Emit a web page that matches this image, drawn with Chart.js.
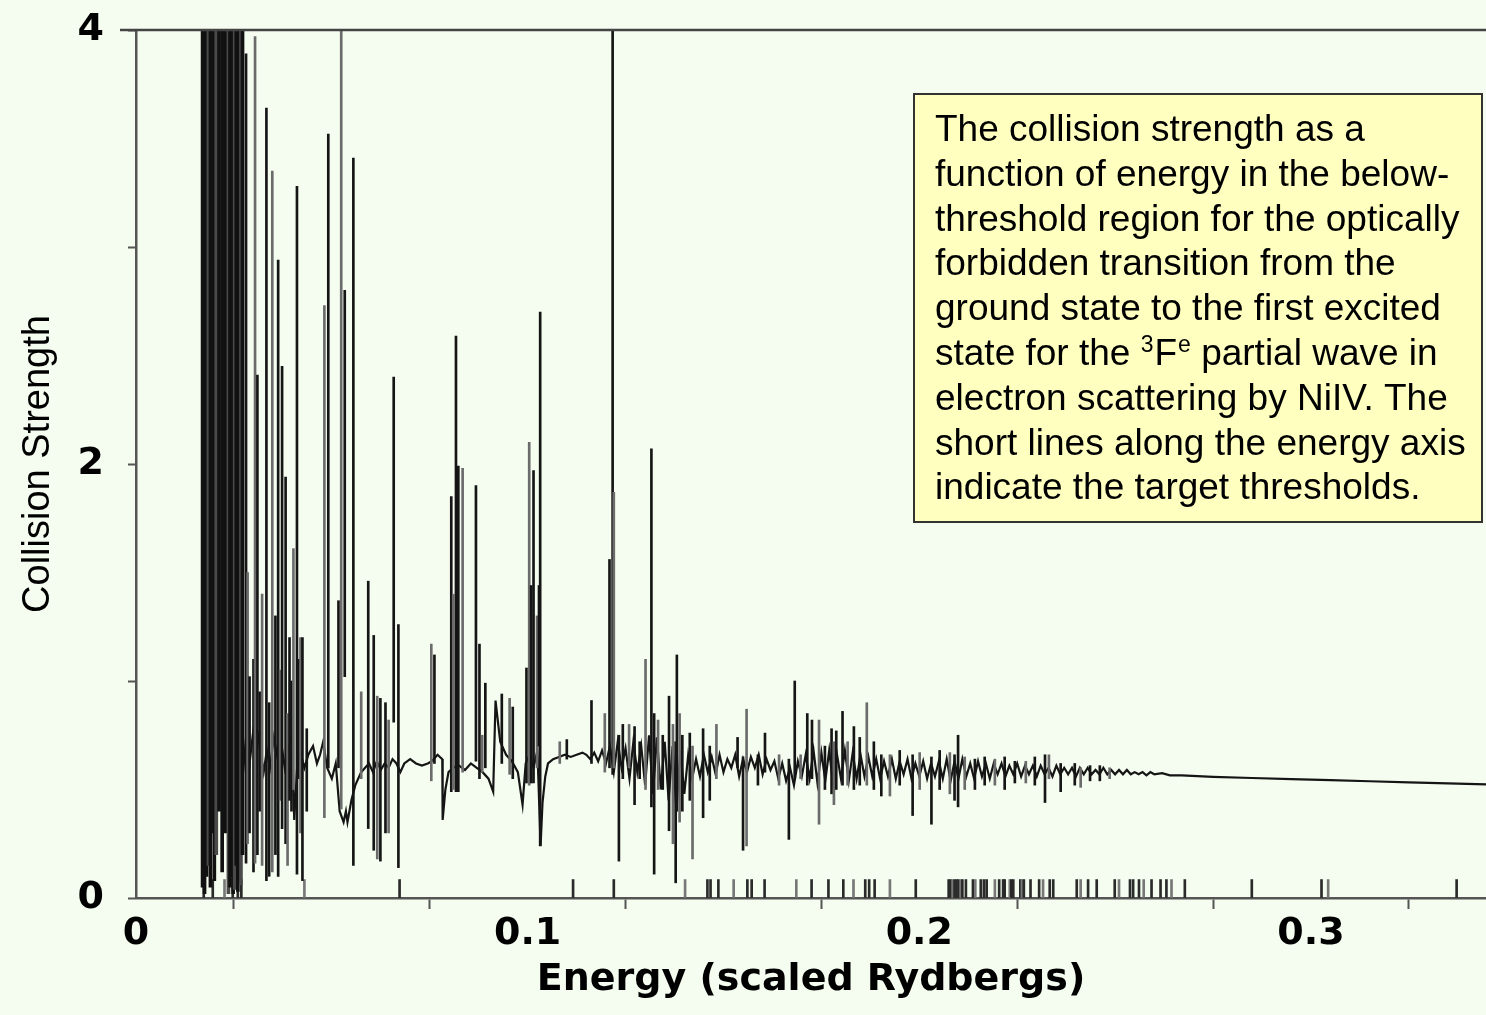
<!DOCTYPE html>
<html>
<head>
<meta charset="utf-8">
<title>Collision strength NiIV</title>
<script src="https://cdn.jsdelivr.net/npm/chart.js@4.4.1/dist/chart.umd.min.js"></script>
<style>
  body { margin: 0; background: #f4fdef; }
  #wrap { width: 1486px; height: 1015px; }
</style>
</head>
<body>
<div id="wrap"><canvas id="collisionChart" width="1486" height="1015"></canvas></div>
<script>
// background continuum of the collision strength (scaled Rydbergs, strength)
const traceEnergy = [
  0.0272, 0.0280, 0.0290, 0.0300, 0.0310, 0.0318, 0.0326, 0.0334, 0.0342, 0.0352,
  0.0362, 0.0372, 0.0380, 0.0390, 0.0398, 0.0404, 0.0412, 0.0420, 0.0430, 0.0440,
  0.0452, 0.0462, 0.0470, 0.0478, 0.0488, 0.0500, 0.0510, 0.0520, 0.0530, 0.0536,
  0.0540, 0.0550, 0.0560, 0.0575, 0.0585, 0.0595, 0.0605, 0.0615, 0.0625, 0.0635,
  0.0645, 0.0655, 0.0665, 0.0675, 0.0685, 0.0700, 0.0715, 0.0730, 0.0745, 0.0755,
  0.0770, 0.0782, 0.0783, 0.0790, 0.0798, 0.0810, 0.0825, 0.0840, 0.0855, 0.0870,
  0.0885, 0.0900, 0.0912, 0.0918, 0.0930, 0.0945, 0.0960, 0.0975, 0.0987, 0.0995,
  0.1005, 0.1015, 0.1025, 0.1033, 0.1038, 0.1045, 0.1052, 0.1065, 0.1080, 0.1095,
  0.1110, 0.1125, 0.1140, 0.1150,
  0.1160, 0.1170, 0.1180, 0.1190, 0.1200, 0.1210, 0.1220, 0.1230, 0.1240, 0.1250,
  0.1260, 0.1270, 0.1280, 0.1290, 0.1300, 0.1310, 0.1320, 0.1330, 0.1340, 0.1350,
  0.1360, 0.1370, 0.1380, 0.1390, 0.1400, 0.1410, 0.1420, 0.1430, 0.1440, 0.1450,
  0.1460, 0.1470, 0.1480, 0.1490, 0.1500, 0.1510, 0.1520, 0.1530, 0.1540, 0.1550,
  0.1560, 0.1570, 0.1580, 0.1590, 0.1600, 0.1610, 0.1620, 0.1630, 0.1640, 0.1650,
  0.1660, 0.1670, 0.1680, 0.1690, 0.1700, 0.1710, 0.1720, 0.1730, 0.1740, 0.1750,
  0.1760, 0.1770, 0.1780, 0.1790, 0.1800, 0.1810, 0.1820, 0.1830, 0.1840, 0.1850,
  0.1860, 0.1870, 0.1880, 0.1890, 0.1900, 0.1910, 0.1920, 0.1930, 0.1940, 0.1950,
  0.1960, 0.1970, 0.1980, 0.1990, 0.2000, 0.2010, 0.2020, 0.2030, 0.2040, 0.2050,
  0.2060, 0.2070, 0.2080, 0.2090, 0.2100, 0.2110, 0.2120, 0.2130, 0.2140, 0.2150,
  0.2160, 0.2170, 0.2180, 0.2190, 0.2200, 0.2210, 0.2220, 0.2230, 0.2240, 0.2250,
  0.2260, 0.2270, 0.2280, 0.2290, 0.2300, 0.2310, 0.2320, 0.2330, 0.2340, 0.2350,
  0.2360, 0.2370, 0.2380, 0.2390, 0.2400, 0.2410, 0.2420, 0.2430, 0.2440, 0.2450,
  0.2460, 0.2470, 0.2480, 0.2490, 0.2500, 0.2510, 0.2520, 0.2530, 0.2540, 0.2550,
  0.2560, 0.2570, 0.2580, 0.2590, 0.2600, 0.2620, 0.2640, 0.2670,
  0.2750, 0.2850, 0.2950, 0.3050, 0.3150, 0.3250, 0.3350, 0.3447
]
const traceStrength = [
  0.55, 0.72, 0.62, 0.78, 0.77, 0.67, 0.58, 0.68, 0.60, 0.74,
  0.64, 0.70, 0.60, 0.70, 0.75, 0.36, 0.62, 0.67, 0.60, 0.66,
  0.70, 0.62, 0.66, 0.72, 0.60, 0.55, 0.62, 0.40, 0.35, 0.40,
  0.35, 0.45, 0.52, 0.58, 0.60, 0.62, 0.58, 0.63, 0.59, 0.62,
  0.60, 0.64, 0.62, 0.58, 0.62, 0.64, 0.62, 0.61, 0.62, 0.63,
  0.66, 0.64, 0.36, 0.50, 0.58, 0.60, 0.61, 0.59, 0.62, 0.60,
  0.58, 0.55, 0.49, 0.91, 0.72, 0.66, 0.63, 0.58, 0.43, 0.62,
  0.66, 0.60, 0.68, 0.24, 0.44, 0.56, 0.62, 0.64, 0.65, 0.66,
  0.65, 0.66, 0.67, 0.66,
  0.64, 0.67, 0.63, 0.68, 0.62, 0.70, 0.58, 0.72, 0.60, 0.69,
  0.55, 0.72, 0.58, 0.70, 0.52, 0.75, 0.48, 0.74, 0.50, 0.72,
  0.45, 0.70, 0.40, 0.68, 0.48, 0.66, 0.55, 0.64, 0.56, 0.66,
  0.58, 0.65, 0.57, 0.66, 0.58, 0.64, 0.60, 0.66, 0.56, 0.64,
  0.58, 0.65, 0.60, 0.66, 0.57, 0.64, 0.59, 0.63, 0.55, 0.62,
  0.54, 0.60, 0.52, 0.63, 0.56, 0.66, 0.55, 0.68, 0.53, 0.67,
  0.54, 0.68, 0.52, 0.66, 0.55, 0.68, 0.54, 0.67, 0.55, 0.66,
  0.56, 0.65, 0.56, 0.64, 0.55, 0.63, 0.56, 0.64, 0.55, 0.63,
  0.57, 0.64, 0.55, 0.62, 0.56, 0.63, 0.55, 0.62, 0.56, 0.63,
  0.55, 0.64, 0.54, 0.63, 0.55, 0.64, 0.56, 0.62, 0.55, 0.63,
  0.56, 0.62, 0.55, 0.62, 0.57, 0.62, 0.56, 0.61, 0.57, 0.62,
  0.56, 0.61, 0.57, 0.61, 0.56, 0.61, 0.57, 0.60, 0.56, 0.61,
  0.57, 0.60, 0.57, 0.60, 0.56, 0.60, 0.57, 0.60, 0.57, 0.59,
  0.57, 0.60, 0.57, 0.59, 0.57, 0.59, 0.57, 0.59, 0.57, 0.58,
  0.57, 0.58, 0.565, 0.58, 0.57, 0.575, 0.565, 0.565,
  0.558, 0.553, 0.548, 0.543, 0.538, 0.533, 0.528, 0.524
]

// the crowded group of resonances near threshold, running off the top of the plot
const blockEnergy = [
  0.0170, 0.0175, 0.0180, 0.0185, 0.0190, 0.0195, 0.0200, 0.0205, 0.0212, 0.0220,
  0.0228, 0.0236, 0.0240, 0.0244, 0.0248, 0.0252, 0.0256, 0.0260, 0.0264, 0.0268, 0.0272
]
const blockLow = [
  0.05, 0.02, 0.10, 0.15, 0.05, 0.30, 0.08, 0.20, 0.40, 0.12,
  0.30, 0.02, 0.05, 0.10, 0.02, 0.04, 0.15, 0.03, 0.08, 0.06, 0.20
]
const blockTop = 4.2

// resonances: energy, lowest and highest value of each narrow peak
const peakEnergy = [
  0.0281, 0.0285, 0.0290, 0.0300, 0.0304, 0.0310, 0.0316, 0.0322, 0.0333, 0.0340,
  0.0348, 0.0356, 0.0363, 0.0368, 0.0373, 0.0382, 0.0387, 0.0392, 0.0397, 0.0402,
  0.0411, 0.0415, 0.0420, 0.0425, 0.0436, 0.0481, 0.0491, 0.0517, 0.0524, 0.0533,
  0.0555, 0.0575, 0.0593, 0.0607, 0.0616, 0.0624, 0.0637, 0.0645, 0.0658, 0.0670,
  0.0754, 0.0762, 0.0805, 0.0810, 0.0817, 0.0823, 0.0834, 0.0868, 0.0877, 0.0884,
  0.0892, 0.0934, 0.0954, 0.0962, 0.0997, 0.1004, 0.1009, 0.1015, 0.1024, 0.1029,
  0.1032, 0.1082, 0.1100,
  0.1163, 0.1197, 0.1209, 0.1217, 0.1220, 0.1233, 0.1243, 0.1259, 0.1273, 0.1286,
  0.1301, 0.1316, 0.1323, 0.1333, 0.1345, 0.1361, 0.1371, 0.1378, 0.1381, 0.1388,
  0.1395, 0.1414, 0.1421, 0.1448, 0.1465, 0.1482, 0.1536, 0.1550, 0.1559, 0.1588,
  0.1606, 0.1642, 0.1667, 0.1682, 0.1697, 0.1714, 0.1726, 0.1744, 0.1759, 0.1776,
  0.1782, 0.1788, 0.1804, 0.1817, 0.1833, 0.1848, 0.1866, 0.1884, 0.1903, 0.1925,
  0.1950, 0.1983, 0.2001, 0.2031, 0.2052, 0.2078, 0.2090, 0.2099, 0.2116, 0.2142,
  0.2167, 0.2193, 0.2218, 0.2244, 0.2272, 0.2295, 0.2321, 0.2331, 0.2361, 0.2397,
  0.2412, 0.2436, 0.2461, 0.2486
]
const peakLow = [
  0.16, 0.25, 0.30, 0.12, 0.16, 0.20, 0.40, 0.15, 0.08, 0.10,
  0.12, 0.20, 0.10, 0.45, 0.32, 0.25, 0.15, 0.45, 0.40, 0.50,
  0.11, 0.55, 0.30, 0.08, 0.40, 0.37, 0.60, 0.60, 0.41, 1.02,
  0.15, 0.55, 0.32, 0.22, 0.18, 0.17, 0.30, 0.30, 0.81, 0.14,
  0.54, 0.62, 0.49, 0.50, 0.49, 0.49, 0.58, 0.63, 0.55, 0.58,
  0.60, 0.62, 0.57, 0.55, 0.53, 0.52, 0.53, 0.53, 0.60, 0.70,
  0.24, 0.62, 0.64,
  0.62, 0.58, 0.60, 0.57, 0.60, 0.17, 0.55, 0.60, 0.43, 0.55,
  0.50, 0.42, 0.11, 0.50, 0.50, 0.31, 0.25, 0.07, 0.40, 0.35,
  0.40, 0.45, 0.18, 0.37, 0.45, 0.55, 0.60, 0.22, 0.24, 0.52,
  0.58, 0.52, 0.27, 0.55, 0.55, 0.52, 0.55, 0.34, 0.50, 0.48,
  0.43, 0.50, 0.52, 0.52, 0.50, 0.52, 0.52, 0.50, 0.47, 0.47,
  0.52, 0.38, 0.50, 0.34, 0.50, 0.48, 0.45, 0.42, 0.50, 0.50,
  0.52, 0.52, 0.50, 0.53, 0.53, 0.52, 0.44, 0.55, 0.49, 0.52,
  0.51, 0.54, 0.54, 0.55
]
const peakHigh = [
  3.89, 1.50, 1.02, 1.10, 3.97, 2.41, 0.95, 1.40, 3.64, 0.90,
  3.35, 1.30, 2.94, 1.05, 2.45, 1.94, 0.85, 1.20, 1.00, 1.61,
  3.28, 1.10, 1.20, 1.20, 0.78, 2.73, 3.52, 1.37, 4.2, 2.80,
  3.41, 0.95, 1.46, 1.21, 0.93, 0.92, 0.90, 0.82, 2.40, 1.26,
  1.17, 1.12, 1.85, 1.40, 2.59, 1.99, 1.98, 1.90, 1.17, 0.75,
  0.99, 0.94, 0.92, 0.88, 1.06, 2.10, 1.44, 1.97, 1.30, 1.44,
  2.70, 0.72, 0.73,
  0.91, 0.85, 1.56, 4.2, 1.87, 0.75, 0.80, 0.80, 0.79, 0.72,
  1.10, 2.07, 0.85, 0.82, 0.75, 0.93, 0.80, 0.72, 1.12, 0.85,
  0.75, 0.76, 0.70, 0.78, 0.70, 0.80, 0.74, 0.65, 0.87, 0.66,
  0.76, 0.66, 0.64, 1.00, 0.66, 0.85, 0.82, 0.82, 0.70, 0.78,
  0.72, 0.77, 0.86, 0.72, 0.79, 0.74, 0.90, 0.72, 0.66, 0.66,
  0.68, 0.66, 0.67, 0.65, 0.68, 0.67, 0.66, 0.75, 0.65, 0.64,
  0.65, 0.64, 0.65, 0.63, 0.63, 0.65, 0.66, 0.66, 0.62, 0.62,
  0.60, 0.61, 0.61, 0.60
]

// target thresholds, drawn as short lines on the energy axis
const thresholdEnergy = [
  0.0173, 0.0196, 0.0226, 0.0247, 0.0260, 0.0269, 0.0430, 0.0673, 0.1116, 0.1220,
  0.1402, 0.1459, 0.1467, 0.1487, 0.1526, 0.1561, 0.1572, 0.1605, 0.1686, 0.1725,
  0.1768, 0.1806, 0.1832, 0.1862, 0.1872, 0.1886, 0.1925, 0.1991, 0.2075, 0.2080,
  0.2085, 0.2090, 0.2095, 0.2100, 0.2106, 0.2110, 0.2119, 0.2137, 0.2143, 0.2157,
  0.2165, 0.2172, 0.2193, 0.2204, 0.2214, 0.2218, 0.2231, 0.2235, 0.2240, 0.2258,
  0.2262, 0.2267, 0.2284, 0.2306, 0.2316, 0.2333, 0.2342, 0.2402, 0.2412, 0.2431,
  0.2453, 0.2499, 0.2510, 0.2538, 0.2546, 0.2561, 0.2573, 0.2593, 0.2616, 0.2631,
  0.2644, 0.2678, 0.2849, 0.3027, 0.3044, 0.3372
]
const thresholdMark = 0.085

const xMax = 0.3447
const yMax = 4

const noteLines = [
  'The collision strength as a',
  'function of energy in the below-',
  'threshold region for the optically',
  'forbidden transition from the',
  'ground state to the first excited',
  null, // line with the 3Fe term, drawn with superscripts
  'electron scattering by NiIV. The',
  'short lines along the energy axis',
  'indicate the target thresholds.'
]

function buildPoints(xs, ys) {
  let pts = []
  for (let i = 0; i < xs.length; i++) {
    pts.push({ x: xs[i], y: ys[i] })
  }
  return pts
}

function buildPeaks(xs, lows, highs) {
  let pts = []
  for (let i = 0; i < xs.length; i++) {
    let hi = Array.isArray(highs) ? highs[i] : highs
    pts.push({ x: xs[i], y: [lows[i], hi] })
  }
  return pts
}

function buildThresholds() {
  return thresholdEnergy.map(e => ({ x: e, y: [0, thresholdMark] }))
}

const backgroundPlugin = {
  id: 'pageBackground',
  beforeDraw(chart) {
    const c = chart.ctx
    c.save()
    c.fillStyle = '#f4fdef'
    c.fillRect(0, 0, chart.width, chart.height)
    c.restore()
  }
}

const framePlugin = {
  id: 'frameAndNote',
  afterDraw(chart) {
    const c = chart.ctx
    const area = chart.chartArea
    c.save()
    // top frame line
    c.strokeStyle = '#444'
    c.lineWidth = 2.5
    c.beginPath()
    c.moveTo(area.left - 16, area.top)
    c.lineTo(area.right, area.top)
    c.stroke()

    // note box
    const bx = 914, by = 94, bw = 568, bh = 428
    c.fillStyle = '#ffffc0'
    c.fillRect(bx, by, bw, bh)
    c.strokeStyle = '#333'
    c.lineWidth = 2
    c.strokeRect(bx, by, bw, bh)

    c.fillStyle = '#000'
    c.textBaseline = 'alphabetic'
    c.textAlign = 'left'
    const font = '37px "Liberation Sans", Arial, sans-serif'
    const small = '23px "Liberation Sans", Arial, sans-serif'
    const tx = 935
    let ty = 141
    for (let i = 0; i < noteLines.length; i++) {
      c.font = font
      if (noteLines[i] !== null) {
        c.fillText(noteLines[i], tx, ty)
      } else {
        let x = tx
        c.fillText('state for the ', x, ty)
        x += c.measureText('state for the ').width
        c.font = small
        c.fillText('3', x, ty - 13)
        x += c.measureText('3').width + 1
        c.font = font
        c.fillText('F', x, ty)
        x += c.measureText('F').width + 1
        c.font = small
        c.fillText('e', x, ty - 13)
        x += c.measureText('e').width
        c.font = font
        c.fillText(' partial wave in', x, ty)
      }
      ty += 44.8
    }
    c.restore()
  }
}

const tickFont = { family: '"DejaVu Sans", sans-serif', size: 38, weight: 'bold' }

const config = {
  type: 'line',
  data: {
    datasets: [
      {
        type: 'bar',
        label: 'Near-threshold resonances',
        data: buildPeaks(blockEnergy, blockLow, blockTop),
        barThickness: 3,
        grouped: false,
        borderWidth: 0,
        backgroundColor: ctx => (ctx.dataIndex % 4 === 3 ? '#4a4a4a' : '#111')
      },
      {
        type: 'bar',
        label: 'Resonances',
        data: buildPeaks(peakEnergy, peakLow, peakHigh),
        barThickness: 2,
        grouped: false,
        borderWidth: 0,
        backgroundColor: ctx => (ctx.dataIndex % 3 === 1 ? '#6b6b6b' : '#151515')
      },
      {
        type: 'bar',
        label: 'Thresholds',
        data: buildThresholds(),
        barThickness: 2,
        grouped: false,
        borderWidth: 0,
        backgroundColor: ctx => (ctx.dataIndex % 4 === 2 ? '#777' : '#2a2a2a')
      },
      {
        type: 'line',
        label: 'Collision strength',
        data: buildPoints(traceEnergy, traceStrength),
        borderColor: '#151515',
        borderWidth: 2.2,
        pointRadius: 0,
        tension: 0,
        fill: false
      }
    ]
  },
  options: {
    responsive: false,
    animation: false,
    devicePixelRatio: 1,
    layout: { padding: { top: 30, right: 0, left: 0, bottom: 0 } },
    plugins: {
      legend: { display: false },
      tooltip: { enabled: false }
    },
    scales: {
      x: {
        type: 'linear',
        min: 0,
        max: xMax,
        offset: false,
        afterFit: scale => { scale.height = 117; scale.paddingRight = 0 },
        border: { display: true, color: '#555', width: 2.5 },
        grid: { display: true, drawOnChartArea: false, drawTicks: true, tickLength: 11, tickColor: '#555', tickWidth: 2 },
        ticks: {
          stepSize: 0.05,
          includeBounds: false,
          autoSkip: false,
          maxRotation: 0,
          padding: 2,
          color: '#000',
          font: tickFont,
          callback: v => {
            const t = Math.round(v * 10)
            if (Math.abs(v * 10 - t) > 1e-6) return ''
            return t === 0 ? '0' : (t / 10).toFixed(1)
          }
        },
        title: {
          display: true,
          text: 'Energy (scaled Rydbergs)',
          color: '#000',
          font: { family: '"DejaVu Sans", sans-serif', size: 38, weight: 'bold' },
          padding: { top: 0, bottom: 12 }
        }
      },
      y: {
        min: 0,
        max: yMax,
        afterFit: scale => { scale.width = 136; scale.paddingTop = 0; scale.paddingBottom = 0 },
        border: { display: true, color: '#555', width: 2.5 },
        grid: { display: true, drawOnChartArea: false, drawTicks: true, tickLength: 8, tickColor: '#555', tickWidth: 2 },
        ticks: {
          stepSize: 1,
          padding: 24,
          color: '#000',
          font: tickFont,
          callback: v => (v % 2 === 0 ? String(v) : '')
        },
        title: {
          display: true,
          text: 'Collision Strength',
          color: '#000',
          font: { family: '"Liberation Sans Narrow", "Liberation Sans", sans-serif', size: 38 },
          padding: { top: 16, bottom: 0 }
        }
      }
    }
  },
  plugins: [backgroundPlugin, framePlugin]
}

const ctx = document.getElementById('collisionChart').getContext('2d')
new Chart(ctx, config)
</script>
</body>
</html>
